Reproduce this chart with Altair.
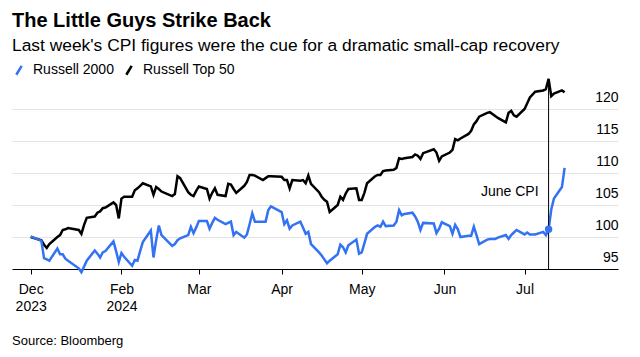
import json
import altair as alt
import pandas as pd

FONT = "Liberation Sans"

title = "The Little Guys Strike Back"
subtitle = "Last week's CPI figures were the cue for a dramatic small-cap recovery"
source = "Source: Bloomberg"

series_names = ["Russell 2000", "Russell Top 50"]
series_colors = ["#3272F3", "#000000"]

# Trading days (Dec 29, 2023 .. Jul 16, 2024)
days_by_month = {
    "2023-12": [29],
    "2024-01": [2, 3, 4, 5, 8, 9, 10, 11, 12, 16, 17, 18, 19, 22, 23, 24, 25, 26, 29, 30, 31],
    "2024-02": [1, 2, 5, 6, 7, 8, 9, 12, 13, 14, 15, 16, 20, 21, 22, 23, 26, 27, 28, 29],
    "2024-03": [1, 4, 5, 6, 7, 8, 11, 12, 13, 14, 15, 18, 19, 20, 21, 22, 25, 26, 27, 28],
    "2024-04": [1, 2, 3, 4, 5, 8, 9, 10, 11, 12, 15, 16, 17, 18, 19, 22, 23, 24, 25, 26, 29, 30],
    "2024-05": [1, 2, 3, 6, 7, 8, 9, 10, 13, 14, 15, 16, 17, 20, 21, 22, 23, 24, 28, 29, 30, 31],
    "2024-06": [3, 4, 5, 6, 7, 10, 11, 12, 13, 14, 17, 18, 20, 21, 24, 25, 26, 27, 28],
    "2024-07": [1, 2, 3, 5, 8, 9, 10, 11, 12, 15, 16],
}

# Russell 2000 (indexed)
r2000_values = (
    [100.1]
    + [99.4, 96.7, 96.5, 96.3, 98.2, 97.3, 97.3, 96.6, 96.3, 95.1, 94.5, 95.4, 96.3, 97.9, 97.4, 96.8, 97.6, 97.8, 99.3, 97.8, 96.1]
    + [97.5, 96.9, 95.5, 96.4, 96.3, 97.8, 99.2, 101.0, 96.8, 99.5, 101.8, 100.3, 98.6, 98.9, 99.5, 99.8, 100.3, 101.6, 100.6, 101.5]
    + [102.5, 102.5, 101.3, 102.2, 103.0, 102.7, 102.0, 102.2, 102.4, 100.3, 100.8, 99.9, 100.4, 102.0, 103.7, 102.4, 102.4, 102.4, 104.2, 104.8]
    + [103.9, 102.0, 102.6, 101.3, 101.8, 102.4, 101.5, 100.5, 100.8, 98.9, 97.6, 97.1, 96.5, 95.9, 96.3, 97.3, 98.8, 98.4, 97.6, 98.7, 99.6, 97.4]
    + [97.6, 99.0, 100.5, 101.6, 101.8, 101.6, 102.4, 101.7, 101.8, 102.4, 104.2, 103.4, 103.6, 103.8, 103.2, 102.4, 101.1, 102.2, 102.1, 100.6, 101.3, 102.3]
    + [101.7, 100.5, 101.9, 101.2, 100.0, 100.2, 100.2, 101.6, 100.3, 98.9, 99.6, 99.7, 99.7, 99.9, 100.3, 99.7, 100.3, 100.7, 101.1]
    + [100.4, 100.7, 100.4, 100.4, 100.8, 100.3, 101.2, 104.3, 106.0, 107.8, 110.8]
)

# Russell Top 50 (indexed)
top50_values = (
    [100.0]
    + [99.5, 98.8, 98.3, 98.9, 100.0, 100.3, 101.1, 101.2, 101.4, 101.1, 100.5, 101.9, 103.0, 103.2, 103.8, 104.0, 104.5, 104.6, 105.4, 105.0, 102.9]
    + [106.0, 106.3, 106.3, 107.3, 107.6, 108.0, 108.4, 107.9, 106.6, 107.8, 107.5, 107.1, 106.4, 106.7, 109.5, 109.2, 107.0, 106.6, 106.4, 107.2]
    + [107.9, 107.5, 106.0, 106.9, 107.6, 106.6, 106.4, 108.3, 108.2, 107.5, 106.9, 108.0, 108.6, 109.7, 109.7, 109.6, 108.9, 109.2, 109.5, 109.5]
    + [109.4, 108.9, 108.9, 107.6, 108.9, 108.8, 108.9, 108.4, 109.6, 108.3, 107.0, 106.3, 105.8, 105.5, 103.9, 105.0, 106.3, 105.8, 106.8, 107.5, 107.6, 105.8]
    + [105.8, 106.9, 108.4, 109.5, 109.7, 109.7, 110.3, 110.4, 110.5, 110.8, 112.3, 112.2, 112.3, 112.5, 112.9, 112.7, 112.2, 113.1, 113.7, 113.2, 111.9, 112.6]
    + [113.2, 113.6, 115.3, 115.1, 115.4, 116.1, 116.6, 117.6, 118.1, 118.8, 119.4, 119.5, 118.9, 118.6, 117.9, 119.4, 119.7, 119.0, 118.8]
    + [120.0, 120.9, 121.8, 122.7, 122.9, 123.1, 124.7, 122.0, 122.4, 122.9, 122.6]
)

tick_dates = ["2023-12-29", "2024-02-01", "2024-03-01", "2024-04-01", "2024-05-01", "2024-06-01", "2024-07-01"]
tick_labels = [["Dec", "2023"], ["Feb", "2024"], ["Mar"], ["Apr"], ["May"], ["Jun"], ["Jul"]]
x_domain = ["2023-12-22", "2024-08-05"]
y_ticks = [95, 100, 105, 110, 115, 120]
y_domain = [95, 125]

event_date = "2024-07-10"
event_label = "June CPI"
event_label_value = 107.1

# ---------- build tables ----------
dates = [f"{ym}-{d:02d}" for ym, ds in days_by_month.items() for d in ds]
assert len(dates) == len(r2000_values) == len(top50_values)

df = pd.DataFrame({
    "date": pd.to_datetime(dates * 2),
    "value": r2000_values + top50_values,
    "series": [series_names[0]] * len(dates) + [series_names[1]] * len(dates),
})

ev_idx = dates.index(event_date)
ev = pd.DataFrame({
    "date": pd.to_datetime([event_date]),
    "r2000": [r2000_values[ev_idx]],
    "top50": [top50_values[ev_idx]],
    "base": [y_domain[0]],
    "label_y": [event_label_value],
    "label": [event_label],
})
src = pd.DataFrame({"t": [source]})


def dt(s):
    y, m, d = (int(p) for p in s.split("-"))
    return alt.DateTime(year=y, month=m, date=d)


label_expr = ""
for d, lab in zip(tick_dates, tick_labels):
    label_expr += f"timeFormat(datum.value, '%Y-%m-%d') == '{d}' ? {json.dumps(lab)} : "
label_expr += "''"

x_scale = alt.Scale(domain=[dt(x_domain[0]), dt(x_domain[1])])
x_axis = alt.Axis(
    values=[dt(d) for d in tick_dates],
    labelExpr=label_expr,
    title=None,
    grid=False,
    domain=True,
    domainColor="#000",
    domainWidth=1,
    ticks=True,
    tickColor="#000",
    tickSize=5,
    labelPadding=8,
    labelFontSize=14,
    labelFont=FONT,
    labelColor="#000",
    labelLineHeight=17,
    labelAlign="center",
    labelBaseline="top",
    labelOverlap=False,
)
y_scale = alt.Scale(domain=y_domain, nice=False, zero=False)
y_axis = alt.Axis(
    orient="right",
    values=y_ticks,
    title=None,
    grid=True,
    gridColor="#e4e4e4",
    gridWidth=1,
    domain=False,
    ticks=False,
    tickSize=0,
    labelAlign="right",
    labelPadding=0,
    labelBaseline="alphabetic",
    labelOffset=-8,
    labelFontSize=14,
    labelFont=FONT,
    labelColor="#000",
    labelOverlap=False,
)
x_enc = alt.X("date:T", scale=x_scale, axis=x_axis)
color_enc = alt.Color(
    "series:N",
    scale=alt.Scale(domain=series_names, range=series_colors),
    legend=alt.Legend(
        orient="none",
        legendX=0,
        legendY=-14,
        direction="horizontal",
        title=None,
        symbolType="M-0.6,1L0.6,-1",
        symbolStrokeWidth=2.5,
        symbolSize=80,
        labelFontSize=14,
        labelFont=FONT,
        labelColor="#000",
        columnPadding=7,
        labelOffset=7,
    ),
)

base = alt.Chart(df)
black_line = base.transform_filter(alt.datum.series == series_names[1]).mark_line(
    strokeWidth=2.5, clip=False
).encode(x=x_enc, y=alt.Y("value:Q", scale=y_scale, axis=y_axis), color=color_enc)
blue_line = base.transform_filter(alt.datum.series == series_names[0]).mark_line(
    strokeWidth=2.5, clip=False
).encode(x=x_enc, y=alt.Y("value:Q", scale=y_scale, axis=y_axis), color=color_enc)

rule = alt.Chart(ev).mark_rule(color="#000", strokeWidth=1).encode(
    x=x_enc,
    y=alt.Y("top50:Q", scale=y_scale, axis=y_axis),
    y2="base:Q",
)
dot = alt.Chart(ev).mark_circle(size=55, color=series_colors[0], opacity=1).encode(
    x=x_enc, y=alt.Y("r2000:Q", scale=y_scale, axis=y_axis)
)
ev_text = alt.Chart(ev).mark_text(
    align="right", baseline="middle", dx=-10, fontSize=14, font=FONT, color="#000"
).encode(x=x_enc, y=alt.Y("label_y:Q", scale=y_scale, axis=y_axis), text="label:N")

src_text = alt.Chart(src).mark_text(
    align="left", baseline="middle", fontSize=13, font=FONT, color="#000"
).encode(x=alt.value(0), y=alt.value(264), text="t:N")

chart = (
    alt.layer(black_line, blue_line, rule, dot, ev_text, src_text)
    .properties(
        width=606,
        height=192,
        autosize=alt.AutoSizeParams(type="none"),
        padding={"left": 12, "top": 77, "right": 22, "bottom": 88},
        title=alt.TitleParams(
            text=title,
            subtitle=subtitle,
            anchor="start",
            frame="group",
            font=FONT,
            fontSize=20,
            fontWeight="bold",
            color="#000",
            subtitleFont=FONT,
            subtitleFontSize=17.4,
            subtitleColor="#000",
            subtitlePadding=6.5,
            offset=8.5,
        ),
        background="white",
    )
    .configure_view(stroke=None)
)

chart.save("out.html", embed_options={"renderer": "svg", "actions": False})
